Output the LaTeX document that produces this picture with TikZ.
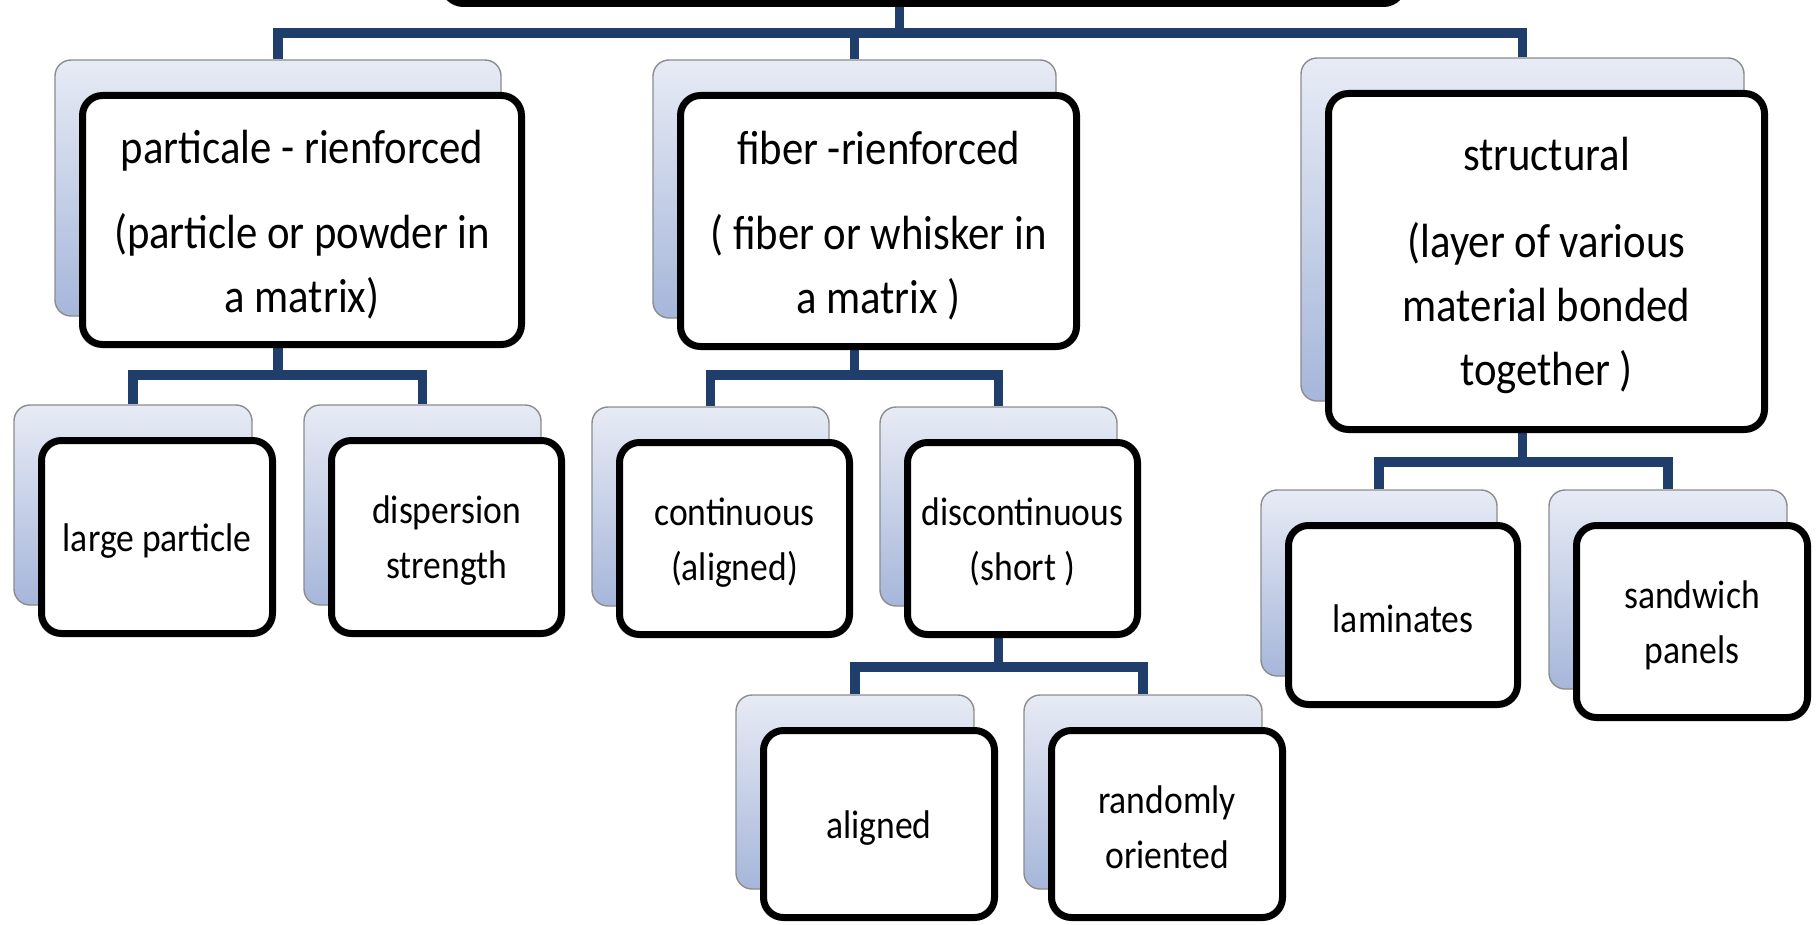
\documentclass[tikz,border=0pt]{standalone}
\usepackage{fontspec}
\setmainfont{Carlito}[FakeStretch=0.89]
\usetikzlibrary{shadows}
\pgfdeclarelayer{bgfill}
\pgfdeclarelayer{background}
\pgfsetlayers{bgfill,background,main}
\definecolor{connc}{HTML}{1F3E6C}
\definecolor{backtop}{HTML}{E7EBF5}
\definecolor{backbot}{HTML}{A6B6DA}
\definecolor{backedge}{HTML}{8C8C8C}
\newcommand{\bigstrut}{\rule{0pt}{21pt}}
\newcommand{\smlstrut}{\rule{0pt}{17.5pt}}
\tikzset{
  backbox/.style={rectangle, rounded corners=8pt, draw=backedge, line width=0.7pt,
    top color=backtop, bottom color=backbot, inner sep=0pt},
  frontbox/.style={rectangle, rounded corners=10pt, draw=black, line width=3.5pt,
    fill=white, inner sep=0pt, align=center,
    drop shadow={shadow xshift=-1.5pt, shadow yshift=-1.5pt, opacity=0.25}},
  bigtext/.style={font=\fontsize{24}{32}\selectfont},
  smalltext/.style={font=\fontsize{20}{27.5}\selectfont},
  conn/.style={draw=connc, line width=4.8pt},
}
% #1 name, #2 text style, #3 x1, #4 y1, #5 x2, #6 y2, #7 text
\newcommand{\pairbox}[7]{%
  \node[backbox, minimum width={(#5-#3)*0.5pt}, minimum height={(#6-#4)*0.5pt}]
    (#1s) at ({(#3+#5)/2-24},{(#4+#6)/2-32}) {};
  \node[frontbox, #2, minimum width={(#5-#3-7)*0.5pt}, minimum height={(#6-#4-7)*0.5pt}]
    (#1) at ({(#3+#5)/2},{(#4+#6)/2}) {#7};
}
\begin{document}
\begin{tikzpicture}[x=0.5pt,y=-0.5pt]
\useasboundingbox (0,0) rectangle (1820,925);
\begin{pgfonlayer}{bgfill}
  \fill[white] (0,0) rectangle (1820,925);
\end{pgfonlayer}
\clip (0,0) rectangle (1820,925);

% boxes
\pairbox{root}{bigtext}{440}{-150}{1407}{7}{}
\pairbox{p1}{bigtext}{79}{92}{525}{348}{\bigstrut particale - rienforced\\[10.5pt](particle or powder in\\a matrix)}
\pairbox{p2}{bigtext}{677}{92}{1080}{350}{\bigstrut fiber -rienforced\\[10.5pt]( fiber or whisker in\\a matrix )}
\pairbox{p3}{bigtext}{1325}{90}{1768}{433}{\bigstrut structural\\[11.5pt](layer of various\\material bonded\\together )}
\pairbox{c11}{smalltext}{38}{437}{276}{637}{\smlstrut large particle}
\pairbox{c12}{smalltext}{328}{437}{565}{637}{\smlstrut dispersion\\strength}
\pairbox{c21}{smalltext}{616}{439}{853}{638}{\smlstrut continuous\\(aligned)}
\pairbox{c22}{smalltext}{904}{439}{1141}{638}{\smlstrut discontinuous\\(short )}
\pairbox{c221}{smalltext}{760}{727}{998}{921}{\smlstrut aligned}
\pairbox{c222}{smalltext}{1048}{727}{1286}{921}{\smlstrut randomly\\oriented}
\pairbox{c31}{smalltext}{1285}{522}{1521}{708}{\smlstrut laminates}
\pairbox{c32}{smalltext}{1573}{522}{1811}{721}{\smlstrut sandwich\\panels}

% connectors
\coordinate (jr) at (roots |- 0,33);
\coordinate (j1) at (p1s |- 0,375);
\coordinate (j2) at (p2s |- 0,375);
\coordinate (j22) at (c22s |- 0,667);
\coordinate (j3) at (p3s |- 0,462);
\begin{pgfonlayer}{background}
  \draw[conn] (roots |- root.south) -- (jr);
  \draw[conn] (p1s.north) |- (jr) -| (p3s.north);
  \draw[conn] (p2s.north) -- (p2s |- jr);
  \draw[conn] (p1s |- p1.south) -- (j1);
  \draw[conn] (c11s.north) |- (j1) -| (c12s.north);
  \draw[conn] (p2s |- p2.south) -- (j2);
  \draw[conn] (c21s.north) |- (j2) -| (c22s.north);
  \draw[conn] (c22s |- c22.south) -- (j22);
  \draw[conn] (c221s.north) |- (j22) -| (c222s.north);
  \draw[conn] (p3s |- p3.south) -- (j3);
  \draw[conn] (c31s.north) |- (j3) -| (c32s.north);
\end{pgfonlayer}
\end{tikzpicture}
\end{document}
